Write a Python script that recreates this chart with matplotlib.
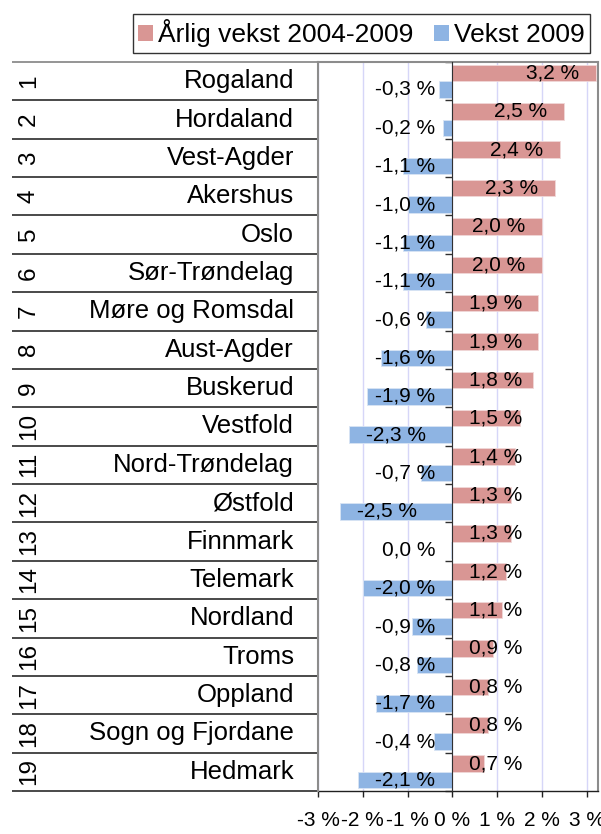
import numpy as np
import matplotlib
matplotlib.use("Agg")
import matplotlib.pyplot as plt
from matplotlib.patches import Patch
import matplotlib.transforms as mtransforms

plt.rcParams['font.family'] = ['Liberation Sans', 'DejaVu Sans']

# ---- data ----
ranks = [str(i) for i in range(1, 20)]
counties = ["Rogaland", "Hordaland", "Vest-Agder", "Akershus", "Oslo",
            "Sør-Trøndelag", "Møre og Romsdal", "Aust-Agder", "Buskerud",
            "Vestfold", "Nord-Trøndelag", "Østfold", "Finnmark", "Telemark",
            "Nordland", "Troms", "Oppland", "Sogn og Fjordane", "Hedmark"]
annual_growth = [3.2, 2.5, 2.4, 2.3, 2.0, 2.0, 1.9, 1.9, 1.8, 1.5,
                 1.4, 1.3, 1.3, 1.2, 1.1, 0.9, 0.8, 0.8, 0.7]
growth_2009 = [-0.3, -0.2, -1.1, -1.0, -1.1, -1.1, -0.6, -1.6, -1.9, -2.3,
               -0.7, -2.5, -0.04, -2.0, -0.9, -0.8, -1.7, -0.4, -2.1]
series_names = ["Årlig vekst 2004-2009", "Vekst 2009"]
xticks = [-3, -2, -1, 0, 1, 2, 3]
xtick_labels = ["-3 %", "-2 %", "-1 %", "0 %", "1 %", "2 %", "3 %"]

RED = '#D99694'
BLUE = '#8EB4E3'

W, H = 601, 834
fig = plt.figure(figsize=(W / 100, H / 100), dpi=100)
ax = fig.add_axes([318 / W, 1 - 791 / H, 280 / W, 729 / H])

n = len(counties)
idx = np.arange(n)
bar_h = 0.43
y_red = idx + 0.285
y_blue = idx + 0.715

ax.barh(y_red, annual_growth, height=bar_h, color=RED, edgecolor='#F0D8D8',
        linewidth=0.6, zorder=3)
ax.barh(y_blue, growth_2009, height=bar_h, color=BLUE, edgecolor='#D8E4F4',
        linewidth=0.6, zorder=3)

ax.set_xlim(-3, 3.25)
ax.set_ylim(n, 0)

# grid
ax.set_xticks(xticks)
ax.set_xticklabels(xtick_labels, fontsize=15)
ax.xaxis.grid(True, color='#D6D6F8', linewidth=1.0, zorder=0)
ax.set_axisbelow(True)
ax.tick_params(axis='x', direction='out', length=4.5, width=1, pad=10,
               color='#202020')

# category axis at zero with boundary ticks
ax.spines['left'].set_position(('data', 0))
ax.spines['left'].set_color('#303030')
ax.spines['left'].set_zorder(4)
ax.set_yticks(np.arange(n + 1))
ax.set_yticklabels([])
ax.tick_params(axis='y', direction='out', length=5, width=1, color='#303030')

for s in ['top', 'right']:
    ax.spines[s].set_color('#8C8C8C')
    ax.spines[s].set_linewidth(1.5)
ax.spines['bottom'].set_color('#202020')
ax.spines['bottom'].set_linewidth(1.0)
# left border of plot area
ax.plot([0, 0], [0, 1], transform=ax.transAxes, color='#8C8C8C', lw=1.5,
        clip_on=False, zorder=5)

# table on the left
blend = mtransforms.blended_transform_factory(ax.transAxes, ax.transData)
x_left = (12 - 318) / 280
for b in range(n + 1):
    col = '#8C8C8C' if b == 0 else '#3A3A3A'
    ax.plot([x_left, 0], [b, b], transform=blend, color=col, lw=1.3,
            clip_on=False, solid_capstyle='butt')
x_num = (29 - 318) / 280
x_name = (294 - 318) / 280
for i in range(n):
    ax.text(x_num, i + 0.5, ranks[i], transform=blend, rotation=90,
            ha='center', va='center', fontsize=17.5)
    ax.text(x_name, i + 0.5, counties[i], transform=blend, ha='right',
            va='center', fontsize=18.5)


def fmt(v):
    r = round(v, 1) + 0.0
    return f"{r:.1f} %".replace('.', ',')


labels = []
for v, y in zip(annual_growth, y_red):
    labels.append((v, y, ax.annotate(fmt(v), xy=(0, y), xytext=(0, 0),
                                     textcoords='offset pixels', ha='center',
                                     va='center', fontsize=15, zorder=6)))
for v, y in zip(growth_2009, y_blue):
    labels.append((v, y, ax.annotate(fmt(v), xy=(0, y), xytext=(0, 0),
                                     textcoords='offset pixels', ha='center',
                                     va='center', fontsize=15, zorder=6)))

# legend
handles = [Patch(facecolor=RED, edgecolor='none'),
           Patch(facecolor=BLUE, edgecolor='none')]
leg = fig.legend(handles, series_names, loc='upper left',
                 bbox_to_anchor=(133 / W, 1 - 52 / H, 457 / W, 38 / H),
                 mode='expand', ncol=2, fontsize=19,
                 frameon=True, fancybox=False, edgecolor='black',
                 handlelength=0.55, handleheight=0.55, handletextpad=0.2,
                 columnspacing=0.4, borderpad=0.2, borderaxespad=0)
leg.get_frame().set_linewidth(1.0)

fig.canvas.draw()
renderer = fig.canvas.get_renderer()
scale = ax.transData.transform((1, 0))[0] - ax.transData.transform((0, 0))[0]
pad = 17
for v, y, t in labels:
    w = t.get_window_extent(renderer).width
    L = abs(v) * scale
    fits = L - pad - w >= pad
    if v > 0:
        if fits:
            t.xy = (v, y); t.xyann = (-pad, 0); t.set_ha('right')
        else:
            t.xy = (0, y); t.xyann = (pad, 0); t.set_ha('left')
    else:
        if fits:
            t.xy = (v, y); t.xyann = (pad, 0); t.set_ha('left')
        else:
            t.xy = (0, y); t.xyann = (-pad, 0); t.set_ha('right')

fig.savefig('out.png', dpi=100)
